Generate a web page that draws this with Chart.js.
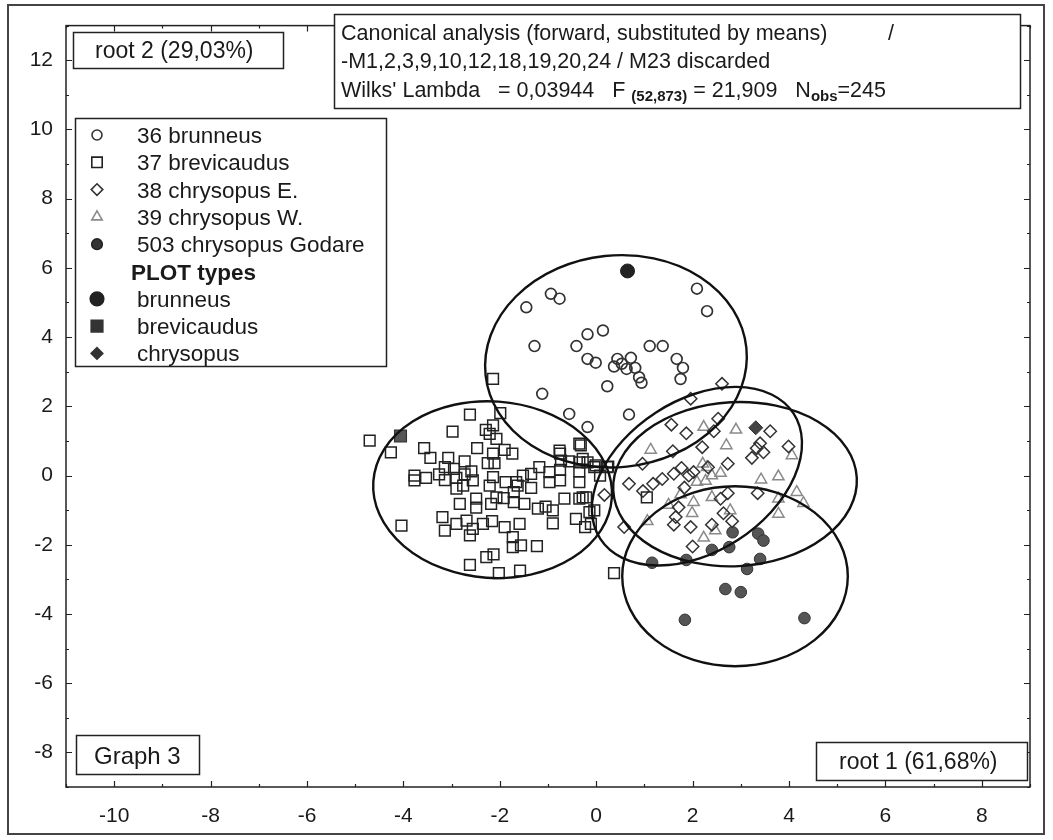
<!DOCTYPE html>
<html>
<head>
<meta charset="utf-8">
<script src="https://cdn.jsdelivr.net/npm/chart.js@4.4.1/dist/chart.umd.min.js"></script>
<style>
  html, body { margin: 0; padding: 0; background: #ffffff; }
  #wrap { width: 1053px; height: 840px; position: relative; }
</style>
</head>
<body>
<div id="wrap"><canvas id="c" width="1053" height="840"></canvas></div>
<script>
// ---- tick labels ----
const xTickLabels = [-10, -8, -6, -4, -2, 0, 2, 4, 6, 8];
const yTickLabels = [-8, -6, -4, -2, 0, 2, 4, 6, 8, 10, 12];

// ---- 36 brunneus (root 1, root 2) ----
const brunneusX = [-1.45, -0.94, -0.76, -1.28, -0.18, 0.14, -0.41, -0.18, -0.01, 0.44, 0.72, 0.37, 0.53, 0.63, 0.81, 0.89, 0.94, 0.23, 1.11, 1.38, 1.67, 1.80, 1.75, 2.09, 2.30, -1.12, 0.68, -0.56, -0.18];
const brunneusY = [4.86, 5.25, 5.11, 3.74, 4.08, 4.19, 3.74, 3.37, 3.26, 3.37, 3.40, 3.15, 3.23, 3.08, 3.11, 2.84, 2.68, 2.58, 3.74, 3.74, 3.37, 3.11, 2.79, 5.40, 4.75, 2.36, 1.76, 1.78, 1.40];

// ---- 37 brevicaudus ----
const brevicaudusX = [-4.70, -4.26, -4.04, -2.62, -1.99, -2.98, -2.14, -2.29, -2.21, -2.07, -2.47, -3.57, -3.44, -1.90, -1.74, -2.14, -2.25, -2.11, -3.07, -2.73, -3.77, -3.77, -3.53, -3.26, -3.14, -3.14, -2.95, -2.90, -2.73, -2.56, -2.59, -2.14, -2.90, -2.83, -2.49, -2.49, -2.18, -2.07, -1.88, -1.63, -1.35, -1.18, -1.52, -1.35, -1.71, -1.71, -1.92, -1.49, -1.21, -1.05, -0.90, -0.90, -0.66, -0.35, -0.42, -0.23, -0.14, -0.04, -0.97, -0.97, -0.75, -0.75, -0.75, -0.73, -0.56, -0.35, -0.35, -0.35, -0.18, -0.01, -0.35, -3.19, -3.14, -2.90, -2.69, -2.56, -2.62, -2.35, -2.16, -1.90, -1.73, -1.73, -1.56, -1.59, -1.23, -2.28, -2.13, -2.62, -2.02, -1.58, -0.11, -1.66, -2.21, -2.76, -2.14, 0.25, 0.37, -0.76, -0.21, -0.28, -0.04, 0.23, -0.32, -0.28, 0.08, 1.05];
const brevicaudusY = [1.01, 0.67, -1.45, 1.76, 1.80, 1.27, 1.45, 1.32, 1.20, 1.06, 0.79, 0.79, 0.51, 0.74, 0.63, 0.63, 0.36, 0.36, 0.51, 0.41, 0.00, -0.14, -0.07, 0.03, 0.24, -0.13, 0.19, -0.07, 0.03, -0.14, 0.12, -0.05, -0.38, -0.82, -0.67, -0.93, -0.82, -0.63, -0.19, -0.29, 0.05, 0.24, 0.00, -0.36, -0.48, -0.77, -0.65, -0.82, -0.96, -0.90, -1.01, -1.38, -0.67, -0.67, -1.25, -1.49, -1.06, -1.01, -0.19, 0.10, -0.14, 0.16, 0.63, 0.43, 0.41, 0.92, 0.38, 0.12, 0.38, 0.29, -0.19, -1.20, -1.59, -1.40, -1.30, -1.54, -1.73, -1.40, -1.32, -1.49, -1.78, -2.07, -2.02, -1.40, -2.04, -2.36, -2.28, -2.58, -2.82, -2.75, -1.40, -0.19, -0.29, -0.29, 2.79, 0.26, -2.82, 0.72, -0.63, -0.63, 0.24, 0.24, 0.87, 0.48, 0.00, -0.63];

// ---- 38 chrysopus E. ----
const chrysopusEX = [2.61, 1.96, 1.56, 1.87, 2.44, 2.53, 2.20, 1.59, 0.96, 0.68, 0.17, 1.18, 1.37, 1.61, 1.77, 1.92, 2.02, 2.32, 2.73, 0.97, 2.73, 2.58, 2.64, 2.82, 1.71, 1.65, 1.61, 1.96, 2.40, 2.00, 3.23, 3.40, 3.47, 3.61, 3.99, 3.35, 3.33, 0.58, 1.83];
const chrysopusEY = [2.65, 2.22, 1.47, 1.22, 1.28, 1.64, 0.82, 0.70, 0.34, -0.24, -0.56, -0.24, -0.10, 0.05, 0.22, 0.00, 0.10, 0.24, 0.34, -0.45, -0.51, -0.67, -1.09, -1.32, -0.92, -1.20, -1.42, -1.49, -1.42, -2.05, 0.51, 0.93, 0.67, 1.28, 0.84, -0.51, 0.79, -1.49, -0.35];

// ---- 39 chrysopus W. ----
const chrysopusWX = [2.23, 2.90, 2.70, 1.13, 2.21, 2.58, 2.40, 2.09, 2.27, 3.42, 3.78, 4.06, 4.16, 4.30, 3.78, 3.78, 2.02, 2.40, 2.78, 1.99, 2.47, 2.23, 1.06, 2.30, 1.75, 1.50];
const chrysopusWY = [1.40, 1.32, 0.87, 0.74, 0.34, 0.07, 0.00, -0.19, -0.16, -0.12, -0.03, 0.58, -0.48, -0.80, -1.11, -0.67, -0.77, -0.63, -1.01, -1.09, -1.59, -1.80, -1.32, 0.24, -0.55, -0.85];

// ---- 503 chrysopus Godare ----
const godareX = [2.83, 3.36, 3.47, 2.40, 2.76, 1.16, 1.87, 3.13, 3.40, 2.68, 3.00, 1.84, 4.32];
const godareY = [-1.64, -1.68, -1.88, -2.15, -2.07, -2.52, -2.44, -2.70, -2.41, -3.28, -3.37, -4.17, -4.12];

// ---- PLOT types ----
const typeBrunneus = [0.65, 5.91];
const typeBrevicaudus = [-4.06, 1.14];
const typeChrysopus = [3.31, 1.38];

// ---- group ellipses: centre (root 1, root 2), half-axes, tilt in degrees ----
const ellipseGroups = ['36 brunneus', '37 brevicaudus', '38 chrysopus E.', '39 chrysopus W.', '503 chrysopus Godare'];
const ellipseCx = [0.41, -2.15, 2.09, 2.88, 2.88];
const ellipseCy = [3.30, -0.41, -0.02, -0.25, -2.91];
const ellipseRx = [2.72, 2.48, 2.39, 2.53, 2.34];
const ellipseRy = [3.06, 2.55, 2.19, 2.37, 2.60];
const ellipseTilt = [-6, 4, -33, -3, 0];

// ---- text ----
const legendLabels = ['36 brunneus', '37 brevicaudus', '38 chrysopus E.', '39 chrysopus W.', '503 chrysopus Godare', 'PLOT types', 'brunneus', 'brevicaudus', 'chrysopus'];
const infoLine1 = 'Canonical analysis (forward, substituted by means)';
const infoLine2 = '-M1,2,3,9,10,12,18,19,20,24 / M23 discarded';
const yAxisTitle = 'root 2 (29,03%)';
const xAxisTitle = 'root 1 (61,68%)';
const graphTitle = 'Graph 3';

const FONT = '"Liberation Sans", Arial, Helvetica, sans-serif';
const pts = (xs, ys) => xs.map((v, i) => ({ x: v, y: ys[i] }));

const datasets = [
  { label: '36 brunneus', data: pts(brunneusX, brunneusY), pointStyle: 'circle', pointRadius: 5.4,
    borderColor: '#333', backgroundColor: 'rgba(0,0,0,0)', borderWidth: 1.7 },
  { label: '37 brevicaudus', data: pts(brevicaudusX, brevicaudusY), pointStyle: 'rect', pointRadius: 7.6,
    borderColor: '#222', backgroundColor: 'rgba(0,0,0,0)', borderWidth: 1.5 },
  { label: '38 chrysopus E.', data: pts(chrysopusEX, chrysopusEY), pointStyle: 'rectRot', pointRadius: 6.2,
    borderColor: '#333', backgroundColor: 'rgba(0,0,0,0)', borderWidth: 1.5 },
  { label: '39 chrysopus W.', data: pts(chrysopusWX, chrysopusWY), pointStyle: 'triangle', pointRadius: 6.5,
    borderColor: '#8a8a8a', backgroundColor: 'rgba(0,0,0,0)', borderWidth: 1.5 },
  { label: '503 chrysopus Godare', data: pts(godareX, godareY), pointStyle: 'circle', pointRadius: 5.8,
    borderColor: '#333', backgroundColor: '#555', borderWidth: 1 },
  { label: 'brunneus', data: [{ x: typeBrunneus[0], y: typeBrunneus[1] }], pointStyle: 'circle', pointRadius: 7,
    borderColor: '#222', backgroundColor: '#222', borderWidth: 1 },
  { label: 'brevicaudus', data: [{ x: typeBrevicaudus[0], y: typeBrevicaudus[1] }], pointStyle: 'rect', pointRadius: 8.4,
    borderColor: '#333', backgroundColor: '#555', borderWidth: 1.2 },
  { label: 'chrysopus', data: [{ x: typeChrysopus[0], y: typeChrysopus[1] }], pointStyle: 'rectRot', pointRadius: 7,
    borderColor: '#333', backgroundColor: '#444', borderWidth: 1 }
];

// small marker painter for the legend
function marker(ctx, kind, x, y, r, stroke, fill) {
  ctx.save();
  ctx.beginPath();
  if (kind === 'circle') ctx.arc(x, y, r, 0, Math.PI * 2);
  else if (kind === 'square') ctx.rect(x - r, y - r, 2 * r, 2 * r);
  else if (kind === 'diamond') { ctx.moveTo(x - r, y); ctx.lineTo(x, y - r); ctx.lineTo(x + r, y); ctx.lineTo(x, y + r); ctx.closePath(); }
  else if (kind === 'triangle') { ctx.moveTo(x, y - r); ctx.lineTo(x + r * 0.866, y + r * 0.5); ctx.lineTo(x - r * 0.866, y + r * 0.5); ctx.closePath(); }
  if (fill) { ctx.fillStyle = fill; ctx.fill(); }
  ctx.strokeStyle = stroke; ctx.lineWidth = 1.6; ctx.stroke();
  ctx.restore();
}

function box(ctx, x1, y1, x2, y2) {
  ctx.save();
  ctx.fillStyle = '#fff';
  ctx.fillRect(x1, y1, x2 - x1, y2 - y1);
  ctx.strokeStyle = '#222';
  ctx.lineWidth = 1.5;
  ctx.strokeRect(x1 + 0.5, y1 + 0.5, x2 - x1, y2 - y1);
  ctx.restore();
}

const decorations = {
  id: 'decorations',
  afterDatasetsDraw(chart) {
    const { ctx, chartArea: a, scales: { x, y } } = chart;
    ctx.save();
    ctx.beginPath();
    ctx.rect(a.left, a.top, a.right - a.left, a.bottom - a.top);
    ctx.clip();
    ctx.strokeStyle = '#111';
    ctx.lineWidth = 2.4;
    for (let i = 0; i < ellipseCx.length; i++) {
      const px = x.getPixelForValue(ellipseCx[i]);
      const py = y.getPixelForValue(ellipseCy[i]);
      const rx = Math.abs(x.getPixelForValue(ellipseCx[i] + ellipseRx[i]) - px);
      const ry = Math.abs(y.getPixelForValue(ellipseCy[i] + ellipseRy[i]) - py);
      ctx.beginPath();
      ctx.ellipse(px, py, rx, ry, ellipseTilt[i] * Math.PI / 180, 0, Math.PI * 2);
      ctx.stroke();
    }
    ctx.restore();
  },
  afterDraw(chart) {
    const { ctx, chartArea: a, scales: { x, y } } = chart;
    ctx.save();

    // plot frame with inward ticks on all four sides
    ctx.strokeStyle = '#222';
    ctx.lineWidth = 1.5;
    ctx.strokeRect(a.left, a.top, a.right - a.left, a.bottom - a.top);
    ctx.lineWidth = 1.2;
    ctx.beginPath();
    for (let v = Math.ceil(x.min); v <= x.max; v++) {
      const len = v % 2 === 0 ? 6 : 3;
      const p = Math.round(x.getPixelForValue(v)) + 0.5;
      ctx.moveTo(p, a.bottom); ctx.lineTo(p, a.bottom - len);
      ctx.moveTo(p, a.top); ctx.lineTo(p, a.top + len);
    }
    for (let v = Math.ceil(y.min); v <= y.max; v++) {
      const len = v % 2 === 0 ? 6 : 3;
      const p = Math.round(y.getPixelForValue(v)) + 0.5;
      ctx.moveTo(a.left, p); ctx.lineTo(a.left + len, p);
      ctx.moveTo(a.right, p); ctx.lineTo(a.right - len, p);
    }
    ctx.stroke();

    // outer figure border
    ctx.strokeStyle = '#444';
    ctx.lineWidth = 2;
    ctx.strokeRect(8, 5, 1036, 829);

    ctx.textBaseline = 'alphabetic';
    ctx.textAlign = 'left';
    const ink = '#1a1a1a';

    // axis name boxes
    box(ctx, 73, 32, 283, 68);
    ctx.fillStyle = ink;
    ctx.font = '23px ' + FONT;
    ctx.fillText(yAxisTitle, 95, 58);

    box(ctx, 816, 742, 1027, 780);
    ctx.fillStyle = ink;
    ctx.fillText(xAxisTitle, 839, 769);

    box(ctx, 76, 735, 199, 774);
    ctx.fillStyle = ink;
    ctx.font = '24px ' + FONT;
    ctx.fillText(graphTitle, 94, 764);

    // analysis summary box
    box(ctx, 334, 14, 1020, 108);
    ctx.fillStyle = ink;
    ctx.font = '21.5px ' + FONT;
    ctx.fillText(infoLine1, 341, 40);
    ctx.fillText('/', 888, 40);
    ctx.fillText(infoLine2, 341, 68);
    let cx = 341;
    const seg = (txt, font, dy) => { ctx.font = font; ctx.fillText(txt, cx, 97 + dy); cx += ctx.measureText(txt).width; };
    const base = '21.5px ' + FONT, sub = 'bold 15px ' + FONT;
    seg("Wilks' Lambda   = 0,03944   F ", base, 0);
    seg('(52,873)', sub, 4);
    seg(' = 21,909   N', base, 0);
    seg('obs', sub, 4);
    seg('=245', base, 0);

    // legend
    box(ctx, 75, 118, 386, 366);
    const kinds = [
      ['circle', 5, '#333', null], ['square', 5.2, '#222', null], ['diamond', 5.8, '#333', null],
      ['triangle', 6, '#8a8a8a', null], ['circle', 5.3, '#222', '#333'], null,
      ['circle', 6.8, '#222', '#222'], ['square', 5.8, '#333', '#333'], ['diamond', 5.8, '#333', '#333']
    ];
    for (let i = 0; i < legendLabels.length; i++) {
      const cyRow = 135 + i * 27.3;
      ctx.fillStyle = ink;
      if (kinds[i] === null) {
        ctx.font = 'bold 22.5px ' + FONT;
        ctx.fillText(legendLabels[i], 131, cyRow + 8);
        continue;
      }
      const k = kinds[i];
      marker(ctx, k[0], 97, cyRow, k[1], k[2], k[3]);
      ctx.fillStyle = ink;
      ctx.font = '22.5px ' + FONT;
      ctx.fillText(legendLabels[i], 137, cyRow + 8);
    }
    ctx.restore();
  }
};

new Chart(document.getElementById('c'), {
  type: 'scatter',
  data: { datasets },
  options: {
    responsive: false,
    animation: false,
    devicePixelRatio: 1,
    layout: { padding: { left: 0, right: 23, top: 25, bottom: 0 } },
    plugins: { legend: { display: false }, tooltip: { enabled: false } },
    elements: { point: { hoverRadius: 0 } },
    scales: {
      x: {
        type: 'linear', min: -11, max: 9,
        grid: { display: false, drawTicks: false },
        border: { display: false },
        ticks: {
          stepSize: 1, autoSkip: false, maxRotation: 0, padding: 17, color: '#1a1a1a',
          font: { family: FONT, size: 21 },
          callback: v => xTickLabels.includes(v) ? String(v) : ''
        },
        afterFit: s => { s.height = 53; }
      },
      y: {
        type: 'linear', min: -9, max: 13,
        grid: { display: false, drawTicks: false },
        border: { display: false },
        ticks: {
          stepSize: 1, autoSkip: false, padding: 13, color: '#1a1a1a',
          font: { family: FONT, size: 21 },
          callback: v => yTickLabels.includes(v) ? String(v) : ''
        },
        afterFit: s => { s.width = 66; }
      }
    }
  },
  plugins: [decorations]
});
</script>
</body>
</html>
